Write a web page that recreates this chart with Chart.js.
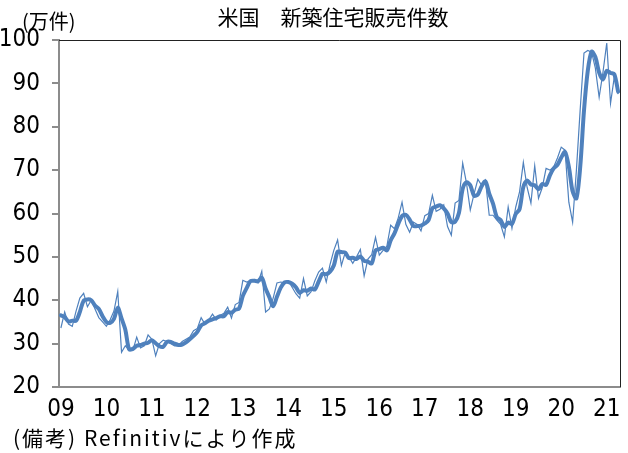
<!DOCTYPE html>
<html>
<head>
<meta charset="utf-8">
<script src="https://cdn.jsdelivr.net/npm/chart.js@4"></script>
<style>
  html, body { margin: 0; padding: 0; background: #fff; }
  #wrap { width: 628px; height: 453px; }
</style>
</head>
<body>
<div id="wrap"><canvas id="chart" width="628" height="453"></canvas></div>
<script>
// tick labels of the x axis (January of each year)
const yearLabels = ['09', '10', '11', '12', '13', '14', '15', '16', '17', '18', '19', '20', '21'];
const monthCount = 148; // 2009/01 - 2021/04

// monthly new home sales, 10k units (thin line)
const monthly = [
  33.6, 37.3, 34.5, 34.0, 37.5, 40.5, 41.6, 38.5, 40.0, 38.0, 36.0, 35.0,
  34.0, 35.5, 37.5, 42.0, 28.0, 29.5, 28.5, 28.5, 31.5, 29.0, 29.5, 32.0,
  31.0, 27.2, 30.0, 30.8, 30.5, 30.0, 29.5, 29.5, 30.5, 31.0, 31.5, 33.0,
  33.5, 36.0, 34.5, 35.5, 36.8, 35.5, 36.5, 37.0, 38.4, 35.9, 39.0, 39.5,
  44.6, 44.2, 44.5, 44.8, 44.0, 46.7, 37.3, 38.0, 40.5, 44.0, 44.2, 44.0,
  44.5, 43.0, 41.5, 40.5, 45.0, 41.0, 42.0, 44.5, 46.5, 47.4, 44.2, 48.2,
  51.5, 53.9, 48.0, 51.0, 50.0, 48.5, 50.0, 51.7, 45.6, 49.5, 50.5, 54.5,
  50.4, 51.5, 52.5, 57.3, 56.5, 59.0, 62.6, 57.5, 55.7, 58.0, 57.5, 56.0,
  59.5, 60.0, 64.2, 60.5, 61.0, 62.0, 57.0, 55.0, 62.4, 63.0, 71.6, 67.0,
  60.8, 64.5, 67.9, 66.5, 67.7, 59.6, 59.6, 58.5, 57.5, 54.6, 61.5, 56.6,
  61.5, 65.0, 71.8, 66.0, 62.4, 71.0, 63.5, 66.0, 70.4, 70.0, 70.7, 72.8,
  75.3, 74.6, 62.6, 58.0, 70.0, 84.0, 97.0, 97.6, 97.2, 93.5, 86.8, 92.5,
  99.3, 85.4, 91.5, 87.5
];

// 3-month average (thick line)
const avg3 = [
  36.5, 36.1, 35.1, 35.3, 35.3, 37.3, 39.9, 40.2, 40.0, 38.8, 38.0, 36.3,
  35.0, 34.8, 35.7, 38.3, 35.8, 33.2, 28.7, 28.8, 29.5, 29.7, 30.0, 30.2,
  30.8, 30.1, 29.4, 29.3, 30.4, 30.4, 30.0, 29.7, 29.8, 30.3, 31.0, 31.8,
  32.7, 34.2, 34.7, 35.3, 35.6, 35.9, 36.3, 36.3, 37.3, 37.1, 37.8, 38.1,
  41.0, 42.8, 44.4, 44.5, 44.4, 45.2, 42.7, 40.7, 38.6, 40.8, 42.9, 44.1,
  44.2, 43.8, 43.0, 41.7, 42.3, 42.2, 42.7, 42.5, 44.3, 46.1, 46.0, 46.6,
  48.0, 51.2, 51.1, 51.0, 49.7, 49.8, 49.5, 50.1, 49.1, 48.9, 48.5, 51.5,
  51.8, 52.1, 51.5, 53.8, 55.4, 57.6, 59.4, 59.7, 58.6, 57.1, 57.1, 57.2,
  57.7, 58.5, 61.2, 61.6, 61.9, 61.2, 60.0, 58.0, 58.1, 60.1, 65.7, 67.2,
  66.5, 64.1, 64.4, 66.3, 67.4, 64.6, 62.3, 59.2, 58.5, 56.9, 57.9, 57.6,
  59.9, 61.0, 66.1, 67.6, 66.7, 66.5, 65.6, 66.8, 66.6, 68.8, 70.4, 71.2,
  72.9, 74.2, 70.8, 65.1, 63.5, 70.7, 83.7, 92.9, 97.3, 96.1, 92.5, 90.9,
  92.9, 92.4, 92.1, 88.1
];

const yMin = 20, yMax = 100, yStep = 10;
const titleText = '米国\u3000新築住宅販売件数';
const unitText = '(万件)';
const noteText = '(備考) Refinitivにより作成';

// one category per month, label only on January
const categories = [];
for (let i = 0; i < monthCount; i++) {
  categories.push(i % 12 === 0 ? yearLabels[i / 12] : '');
}

const numFont = "'Liberation Sans Narrow', 'DejaVu Sans Condensed', sans-serif";
const jpFont = "'Noto Sans CJK JP', sans-serif";
const lineColor = '#4f81bd';

const textPlugin = {
  id: 'texts',
  afterDraw(chart) {
    const ctx = chart.ctx;
    const a = chart.chartArea;
    ctx.save();
    // frame top / right
    ctx.strokeStyle = '#222';
    ctx.lineWidth = 1;
    ctx.beginPath();
    ctx.moveTo(a.left, a.top + 0.5);
    ctx.lineTo(a.right + 0.5, a.top + 0.5);
    ctx.lineTo(a.right + 0.5, a.bottom);
    ctx.stroke();

    ctx.fillStyle = '#000';
    ctx.textBaseline = 'alphabetic';
    ctx.font = '21px ' + jpFont;
    ctx.textAlign = 'center';
    ctx.fillText(titleText, 333, 25);

    ctx.font = '20px ' + jpFont;
    ctx.textAlign = 'left';
    ctx.fillText(unitText, 22, 29);

    ctx.font = '21px ' + jpFont;
    ctx.letterSpacing = '2px';
    ctx.fillText(noteText, 13, 446);
    ctx.restore();
  }
};

new Chart(document.getElementById('chart'), {
  type: 'line',
  data: {
    labels: categories,
    datasets: [
      {
        label: '月次',
        data: monthly,
        borderColor: lineColor,
        borderWidth: 1.2,
        pointRadius: 0,
        tension: 0
      },
      {
        label: '3か月平均',
        data: avg3,
        borderColor: lineColor,
        borderWidth: 4,
        pointRadius: 0,
        tension: 0.3,
        borderJoinStyle: 'round',
        borderCapStyle: 'round'
      }
    ]
  },
  options: {
    responsive: false,
    animation: false,
    devicePixelRatio: 1,
    layout: { padding: { left: 0, right: 8, top: 40, bottom: 26 } },
    plugins: {
      legend: { display: false },
      title: { display: false },
      tooltip: { enabled: false }
    },
    scales: {
      x: {
        offset: true,
        afterFit(scale) { scale.height = 40; },
        grid: { display: true, drawOnChartArea: false, drawTicks: false },
        border: { display: true, color: '#8c8c8c', width: 2 },
        ticks: {
          autoSkip: false,
          maxRotation: 0,
          padding: 8,
          color: '#000',
          font: { family: numFont, size: 24 }
        }
      },
      y: {
        min: yMin,
        max: yMax,
        afterFit(scale) { scale.width = 59; },
        grid: { drawOnChartArea: false, drawTicks: true, tickLength: 7, color: '#8c8c8c', lineWidth: 2 },
        border: { display: true, color: '#8c8c8c', width: 2 },
        ticks: {
          stepSize: yStep,
          padding: 12,
          color: '#000',
          font: { family: numFont, size: 24 }
        }
      }
    }
  },
  plugins: [textPlugin]
});
</script>
</body>
</html>
